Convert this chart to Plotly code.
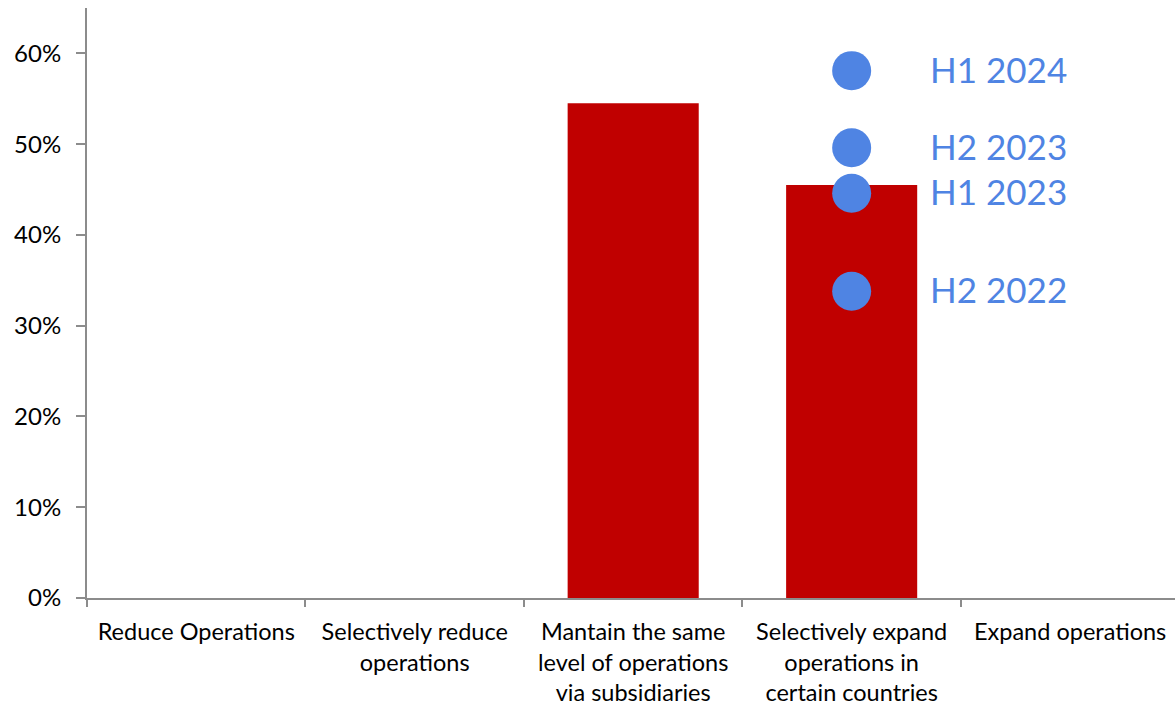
import plotly.graph_objects as go

# Response categories on the x axis
categories = [
    "Reduce Operations",
    "Selectively reduce<br>operations",
    "Mantain the same<br>level of operations<br>via subsidiaries",
    "Selectively expand<br>operations in<br>certain countries",
    "Expand operations",
]
# Share of respondents per category (latest survey)
bar_values = [0.0, 0.0, 0.545, 0.455, 0.0]

# Historical readings for "Selectively expand operations in certain countries"
history_labels = ["H1 2024", "H2 2023", "H1 2023", "H2 2022"]
history_values = [0.581, 0.496, 0.446, 0.338]
history_category = categories[3]

y_ticks = [0, 0.1, 0.2, 0.3, 0.4, 0.5, 0.6]

BAR_RED = "#C00000"
DOT_BLUE = "#4F84E3"
AXIS_GREY = "#8C8C8C"
FONT = "Lato"

fig = go.Figure()

fig.add_trace(go.Bar(
    x=categories,
    y=bar_values,
    marker=dict(color=BAR_RED, line=dict(width=0)),
    width=0.6,
    hoverinfo="skip",
))

fig.add_trace(go.Scatter(
    x=[history_category] * len(history_values),
    y=history_values,
    mode="markers",
    marker=dict(color=DOT_BLUE, size=39, line=dict(width=0)),
    hoverinfo="skip",
))

for lbl, val in zip(history_labels, history_values):
    fig.add_annotation(
        x=history_category, y=val, text=lbl,
        showarrow=False, xanchor="left", yanchor="middle",
        xshift=76, yshift=2,
        font=dict(family=FONT, size=35, color=DOT_BLUE),
    )

fig.update_layout(
    width=1175, height=708,
    margin=dict(l=87, r=0, t=8, b=110),
    paper_bgcolor="white", plot_bgcolor="white",
    showlegend=False,
    bargap=0.4,
    font=dict(family=FONT, size=24, color="#000000"),
)

fig.update_xaxes(
    type="category",
    range=[-0.5, 4.48],
    showline=True, linecolor=AXIS_GREY, linewidth=2,
    ticks="outside", tickson="boundaries", ticklen=7, tickwidth=2, tickcolor=AXIS_GREY,
    ticklabelstandoff=12,
    showgrid=False, zeroline=False,
    tickfont=dict(family=FONT, size=23.5, color="#000000"),
)

fig.update_yaxes(
    range=[0, 0.65],
    tickvals=y_ticks, tickformat=".0%",
    showline=True, linecolor=AXIS_GREY, linewidth=2,
    ticks="outside", ticklen=9, tickwidth=2, tickcolor=AXIS_GREY,
    ticklabelstandoff=10,
    showgrid=False, zeroline=False,
    tickfont=dict(family=FONT, size=24, color="#000000"),
)

fig.write_html("out.html")
